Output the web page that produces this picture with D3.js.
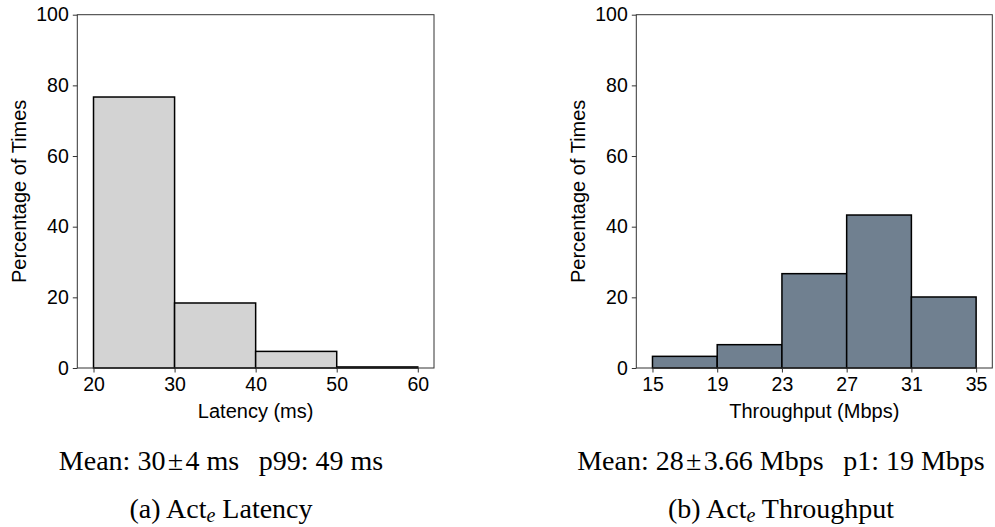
<!DOCTYPE html>
<html>
<head>
<meta charset="utf-8">
<script src="https://cdn.jsdelivr.net/npm/d3@7"></script>
<style>
  body { margin: 0; background: #fff; }
  .tick text { font-family: "Liberation Sans", Arial, sans-serif; font-size: 19.5px; fill: #000; }
  .lbl { font-family: "Liberation Sans", Arial, sans-serif; font-size: 20px; fill: #000; }
  .cap { font-family: "Liberation Serif", "Times New Roman", serif; font-size: 28px; fill: #000; }
</style>
</head>
<body>
<div class="canvas"></div>
<script>
// histogram data
const latencyEdges = [20, 30, 40, 50, 60];
const latencyPct = [76.7, 18.4, 4.7, 0.3];
const tputEdges = [15, 19, 23, 27, 31, 35];
const tputPct = [3.3, 6.6, 26.7, 43.3, 20.1];
const yTicks = [0, 20, 40, 60, 80, 100];

const dim = { width: 995, height: 527, top: 14.7, bottom: 368 };

const svg = d3.select('.canvas').append('svg')
    .attr('width', dim.width)
    .attr('height', dim.height);

const gap = '\u2002\u2009';
const pm = '\u200a\u00b1\u200a';

const panels = [
    {
        edges: latencyEdges, values: latencyPct, fill: '#d3d3d3',
        left: 77.3, right: 434, xLabel: 'Latency (ms)', yLabelX: 26,
        stat: `Mean: 30${pm}4 ms${gap}p99: 49 ms`, capX: 221,
        tag: '(a) Act', tagRest: ' Latency'
    },
    {
        edges: tputEdges, values: tputPct, fill: '#708090',
        left: 636.3, right: 992.3, xLabel: 'Throughput (Mbps)', yLabelX: 585,
        stat: `Mean: 28${pm}3.66 Mbps${gap}p1: 19 Mbps`, capX: 781,
        tag: '(b) Act', tagRest: ' Throughput'
    }
];

panels.forEach(p => {
    const lo = p.edges[0], hi = p.edges[p.edges.length - 1];
    const pad = (hi - lo) * 0.05;

    const x = d3.scaleLinear().domain([lo - pad, hi + pad]).range([p.left, p.right]);
    const y = d3.scaleLinear().domain([0, 100]).range([dim.bottom, dim.top]);

    const g = svg.append('g');

    // bars
    const bins = p.values.map((v, i) => ({ x0: p.edges[i], x1: p.edges[i + 1], v }));
    g.selectAll('rect.bar')
        .data(bins)
        .enter().append('rect')
        .attr('class', 'bar')
        .attr('x', d => x(d.x0))
        .attr('width', d => x(d.x1) - x(d.x0))
        .attr('y', d => y(d.v))
        .attr('height', d => y(0) - y(d.v))
        .attr('fill', p.fill)
        .attr('stroke', '#000')
        .attr('stroke-width', 1.5);

    // frame
    g.append('rect')
        .attr('x', p.left).attr('y', dim.top)
        .attr('width', p.right - p.left).attr('height', dim.bottom - dim.top)
        .attr('fill', 'none')
        .attr('stroke', '#333')
        .attr('stroke-width', 1);

    const xAxis = d3.axisBottom(x).tickValues(p.edges).tickSize(4.5).tickPadding(4.5);
    const yAxis = d3.axisLeft(y).tickValues(yTicks).tickSize(4.5).tickPadding(4);

    g.append('g').attr('transform', `translate(0, ${dim.bottom})`).call(xAxis)
        .call(a => a.select('.domain').remove())
        .call(a => a.selectAll('line').attr('stroke', '#333'));
    g.append('g').attr('transform', `translate(${p.left}, 0)`).call(yAxis)
        .call(a => a.select('.domain').remove())
        .call(a => a.selectAll('line').attr('stroke', '#333'));

    // axis labels
    g.append('text').attr('class', 'lbl')
        .attr('x', (p.left + p.right) / 2).attr('y', 418)
        .attr('text-anchor', 'middle')
        .text(p.xLabel);

    g.append('text').attr('class', 'lbl')
        .attr('transform', `translate(${p.yLabelX}, ${(dim.top + dim.bottom) / 2}) rotate(-90)`)
        .attr('text-anchor', 'middle')
        .text('Percentage of Times');

    // captions under each panel
    g.append('text').attr('class', 'cap')
        .attr('x', p.capX).attr('y', 470)
        .attr('text-anchor', 'middle')
        .text(p.stat);

    const tag = g.append('text').attr('class', 'cap')
        .attr('x', p.capX).attr('y', 518)
        .attr('text-anchor', 'middle');
    tag.append('tspan').text(p.tag);
    tag.append('tspan').text('e')
        .attr('font-style', 'italic').attr('font-size', '20px').attr('dy', 4);
    tag.append('tspan').text(p.tagRest).attr('dy', -4);
});
</script>
</body>
</html>
